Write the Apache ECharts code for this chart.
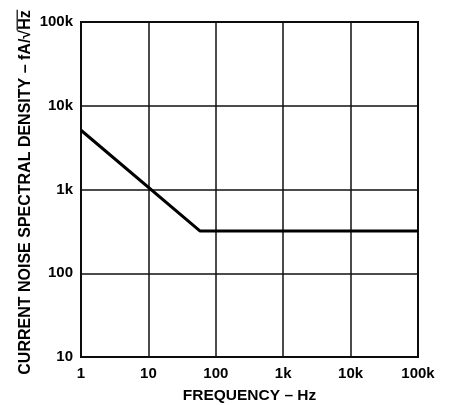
<!DOCTYPE html>
<html><head><meta charset="utf-8">
<script src="https://cdn.jsdelivr.net/npm/echarts@6/dist/echarts.min.js"></script>
<style>html,body{margin:0;padding:0;background:#fff}#c{width:453px;height:405px}</style>
</head><body><div id="c"></div>
<script>
const frequency = [1, 58, 100000];
const density = [5100, 320, 320];
const xTickLabels = {1:'1',10:'10',100:'100',1000:'1k',10000:'10k',100000:'100k'};
const yTickLabels = {10:'10',100:'100',1000:'1k',10000:'10k',100000:'100k'};
const xTitle = 'FREQUENCY – Hz';
const yTitleMain = 'CURRENT NOISE SPECTRAL DENSITY – fA/√';
const yTitleUnit = 'Hz';

const font = '"Liberation Sans", Arial, sans-serif';
const titleSize = 16;
const cv = document.createElement('canvas').getContext('2d');
cv.font = 'bold ' + titleSize + 'px "Liberation Sans"';
const wMain = cv.measureText(yTitleMain).width;
const wUnit = cv.measureText(yTitleUnit).width;
const wAll = wMain + wUnit;

const chart = echarts.init(document.getElementById('c'), null, {renderer:'canvas'});
chart.setOption({
  animation:false,
  grid:{left:81,right:35,top:22,bottom:48,show:true,borderColor:'#000',borderWidth:2,
    backgroundColor:'transparent',containLabel:false,outerBoundsMode:'none'},
  xAxis:{type:'log',logBase:10,min:1,max:100000,
    name:xTitle,nameLocation:'middle',nameGap:31,
    nameTextStyle:{fontFamily:font,fontWeight:'bold',fontSize:15.5,color:'#000'},
    axisLine:{show:false},axisTick:{show:false},
    axisLabel:{fontFamily:font,fontWeight:'bold',fontSize:15,color:'#000',margin:9,
      formatter:v=>xTickLabels[Math.round(v)]||''},
    splitLine:{show:true,lineStyle:{color:'#111',width:1.5}},minorSplitLine:{show:false}},
  yAxis:{type:'log',logBase:10,min:10,max:100000,
    axisLine:{show:false},axisTick:{show:false},
    axisLabel:{fontFamily:font,fontWeight:'bold',fontSize:15,color:'#000',margin:8,
      formatter:v=>yTickLabels[Math.round(v)]||''},
    splitLine:{show:true,lineStyle:{color:'#111',width:1.5}}},
  graphic:[{type:'group',x:26,y:192.5,rotation:Math.PI/2,children:[
    {type:'text',x:-wAll/2,y:0,style:{text:yTitleMain+yTitleUnit,fill:'#000',
      font:'bold '+titleSize+'px "Liberation Sans", Arial, sans-serif',
      textAlign:'left',textVerticalAlign:'middle'}},
    {type:'line',shape:{x1:wAll/2-wUnit-0.5,y1:-8.8,x2:wAll/2+0.5,y2:-8.8},
      style:{stroke:'#000',lineWidth:1.2}}
  ]}],
  series:[{type:'line',data:frequency.map((f,i)=>[f,density[i]]),
    symbol:'none',lineStyle:{color:'#000',width:3},z:5}]
});
</script></body></html>
